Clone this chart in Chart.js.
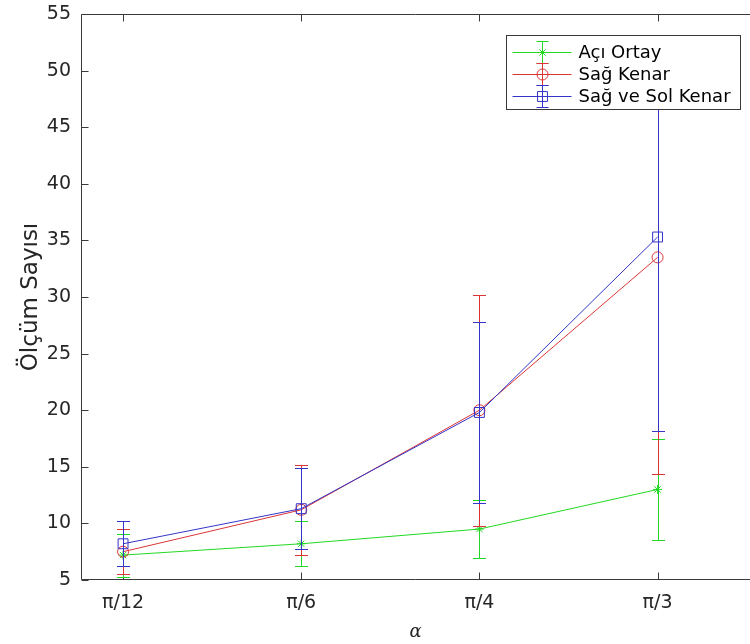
<!DOCTYPE html>
<html>
<head>
<meta charset="utf-8">
<script src="https://cdn.jsdelivr.net/npm/chart.js@4/dist/chart.umd.min.js"></script>
<style>
  html, body { margin: 0; padding: 0; background: #ffffff; }
  #wrap { width: 750px; height: 644px; position: relative; }
</style>
</head>
<body>
<div id="wrap"><canvas id="c" width="750" height="644"></canvas></div>
<script>
// ---- data ----
const xLabels = ['π/12', 'π/6', 'π/4', 'π/3'];
const xValues = [Math.PI / 12, Math.PI / 6, Math.PI / 4, Math.PI / 3];
const seriesNames = ['Açı Ortay', 'Sağ Kenar', 'Sağ ve Sol Kenar'];
const aciOrtayMean = [7.2, 8.2, 9.5, 13.0];
const aciOrtayErr  = [1.9, 2.0, 2.57, 4.48];
const sagKenarMean = [7.5, 11.2, 20.0, 33.5];
const sagKenarErr  = [1.97, 4.0, 10.2, 19.1];
const sagSolMean   = [8.2, 11.3, 19.8, 35.3];
const sagSolErr    = [2.0, 3.6, 8.0, 17.1];

const COLORS = ['#22d822', '#dc3434', '#3434c8'];
const STYLES = ['star', 'circle', 'rect'];
const RADII = [4.5, 5.5, 7];
const means = [aciOrtayMean, sagKenarMean, sagSolMean];
const errs = [aciOrtayErr, sagKenarErr, sagSolErr];

const datasets = means.map((m, k) => ({
  label: seriesNames[k],
  data: m.map((v, i) => ({ x: xValues[i], y: v })),
  errors: errs[k],
  order: 2 - k,
  borderColor: COLORS[k],
  backgroundColor: COLORS[k],
  borderWidth: 1,
  pointStyle: STYLES[k],
  pointRadius: RADII[k],
  pointHoverRadius: RADII[k],
  pointBorderColor: COLORS[k],
  pointBackgroundColor: 'rgba(0,0,0,0)',
  pointBorderWidth: 1,
  tension: 0,
  fill: false
}));

const AXIS_COLOR = '#3a3a3a';
const TEXT_COLOR = '#262626';

function drawMarker(ctx, style, x, y, r) {
  ctx.beginPath();
  if (style === 'circle') {
    ctx.arc(x, y, r, 0, Math.PI * 2);
  } else if (style === 'rect') {
    const s = r / Math.SQRT2;
    ctx.rect(x - s, y - s, 2 * s, 2 * s);
  } else {
    for (let a = 0; a < 4; a++) {
      const ang = a * Math.PI / 4;
      ctx.moveTo(x - Math.cos(ang) * r, y - Math.sin(ang) * r);
      ctx.lineTo(x + Math.cos(ang) * r, y + Math.sin(ang) * r);
    }
  }
  ctx.stroke();
}

function zeroPad(scale) {
  scale.paddingTop = 0; scale.paddingBottom = 0;
  scale.paddingLeft = 0; scale.paddingRight = 0;
}

const axesBox = {
  id: 'axesBox',
  beforeDatasetsDraw(chart) {
    const { ctx, chartArea: a, scales } = chart;
    const L = Math.round(a.left) + 0.5, R = a.right, T = Math.round(a.top) + 0.5, B = Math.round(a.bottom) - 0.5;
    ctx.save();
    ctx.strokeStyle = AXIS_COLOR;
    ctx.lineWidth = 1;
    ctx.beginPath();
    ctx.moveTo(L, T); ctx.lineTo(R, T);
    ctx.moveTo(L, T); ctx.lineTo(L, B);
    ctx.moveTo(L, B); ctx.lineTo(R, B);
    scales.y.ticks.forEach(t => {
      const y = Math.round(scales.y.getPixelForValue(t.value)) + 0.5;
      ctx.moveTo(L, y); ctx.lineTo(L + 7, y);
    });
    scales.x.ticks.forEach(t => {
      const x = Math.round(scales.x.getPixelForValue(t.value)) + 0.5;
      ctx.moveTo(x, B); ctx.lineTo(x, B - 7);
      ctx.moveTo(x, T); ctx.lineTo(x, T + 7);
    });
    ctx.stroke();
    ctx.restore();
  }
};

const errorBars = {
  id: 'errorBars',
  afterDatasetDraw(chart, args) {
    const ds = chart.data.datasets[args.index];
    const { ctx, scales, chartArea: a } = chart;
    ctx.save();
    ctx.beginPath();
    ctx.rect(a.left, a.top, a.right - a.left, a.bottom - a.top);
    ctx.clip();
    ctx.strokeStyle = ds.borderColor;
    ctx.lineWidth = 1;
    ds.data.forEach((p, i) => {
      const e = ds.errors[i];
      const x = Math.round(scales.x.getPixelForValue(p.x)) + 0.5;
      const yt = Math.round(scales.y.getPixelForValue(p.y + e)) + 0.5;
      const yb = Math.round(scales.y.getPixelForValue(p.y - e)) + 0.5;
      ctx.beginPath();
      ctx.moveTo(x, yt); ctx.lineTo(x, yb);
      ctx.moveTo(x - 6.5, yt); ctx.lineTo(x + 6.5, yt);
      ctx.moveTo(x - 6.5, yb); ctx.lineTo(x + 6.5, yb);
      ctx.stroke();
    });
    ctx.restore();
  }
};

const boxLegend = {
  id: 'boxLegend',
  afterDraw(chart) {
    const { ctx, chartArea: a } = chart;
    const top = Math.round(a.top) + 21.5;
    const right = Math.round(a.right) - 9.5;
    const left = right - 234, bottom = top + 74;
    ctx.save();
    ctx.fillStyle = '#ffffff';
    ctx.fillRect(left, top, right - left, bottom - top);
    ctx.strokeStyle = AXIS_COLOR;
    ctx.lineWidth = 1;
    ctx.strokeRect(left, top, right - left, bottom - top);
    ctx.font = '18px "DejaVu Sans"';
    ctx.textBaseline = 'middle';
    ctx.textAlign = 'left';
    chart.data.datasets.forEach((ds, k) => {
      const y = Math.round(top + 16 + k * 22.2) + 0.5;
      ctx.strokeStyle = ds.borderColor;
      ctx.lineWidth = 1;
      ctx.beginPath();
      ctx.moveTo(left + 6, y); ctx.lineTo(left + 65, y);
      const mx = left + 36;
      ctx.moveTo(mx, y - 11); ctx.lineTo(mx, y + 11);
      ctx.moveTo(mx - 6, y - 11); ctx.lineTo(mx + 6, y - 11);
      ctx.moveTo(mx - 6, y + 11); ctx.lineTo(mx + 6, y + 11);
      ctx.stroke();
      drawMarker(ctx, ds.pointStyle, mx, y, ds.pointRadius);
      ctx.fillStyle = '#000000';
      ctx.fillText(ds.label, left + 72, y + 1);
    });
    ctx.restore();
  }
};

new Chart(document.getElementById('c'), {
  type: 'line',
  data: { datasets },
  options: {
    responsive: false,
    animation: false,
    layout: { autoPadding: false, padding: { top: 14, right: 0, left: 0, bottom: 0 } },
    plugins: { legend: { display: false }, tooltip: { enabled: false } },
    scales: {
      x: {
        type: 'linear',
        min: 0.2,
        max: 1.183,
        afterBuildTicks(scale) { scale.ticks = xValues.map(v => ({ value: v })); },
        afterFit(scale) { scale.height = 64; zeroPad(scale); },
        grid: { display: false, drawTicks: false },
        border: { display: false },
        ticks: {
          autoSkip: false,
          maxRotation: 0,
          padding: 12,
          color: TEXT_COLOR,
          font: { family: 'DejaVu Sans', size: 19 },
          callback(value, index) { return xLabels[index]; }
        },
        title: {
          display: true,
          text: 'α',
          color: TEXT_COLOR,
          font: { family: 'DejaVu Serif', size: 18, style: 'italic' },
          padding: { top: 0, bottom: 1 }
        }
      },
      y: {
        min: 5,
        max: 55,
        afterFit(scale) { scale.width = 81; zeroPad(scale); },
        grid: { display: false, drawTicks: false },
        border: { display: false },
        ticks: {
          stepSize: 5,
          padding: 10,
          color: TEXT_COLOR,
          font: { family: 'DejaVu Sans', size: 19 }
        },
        title: {
          display: true,
          text: 'Ölçüm Sayısı',
          color: TEXT_COLOR,
          font: { family: 'DejaVu Sans', size: 23 },
          padding: { top: 17, bottom: 0 }
        }
      }
    }
  },
  plugins: [axesBox, errorBars, boxLegend]
});
</script>
</body>
</html>
